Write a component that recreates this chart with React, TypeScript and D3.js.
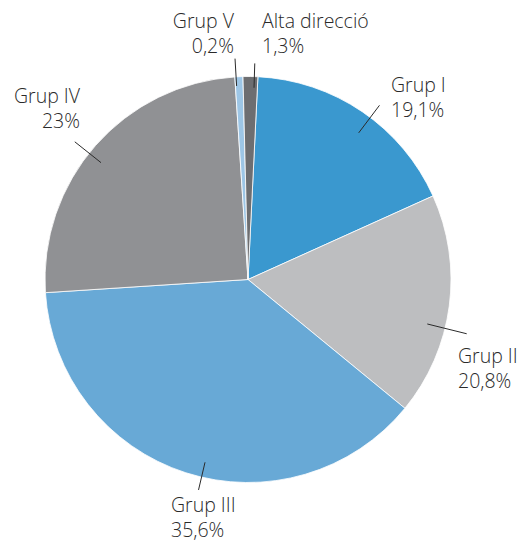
import React, { useRef, useEffect } from "react";
import * as d3 from "d3";

// slice order, clockwise from the top
const groups = ["Grup I", "Grup II", "Grup III", "Grup IV", "Grup V", "Alta direcció"];
// shares as drawn in the picture (%)
const shares = [17.47, 17.69, 38.03, 25.0, 0.64, 1.17];
// the percentages printed on the labels
const labelPcts = ["19,1%", "20,8%", "35,6%", "23%", "0,2%", "1,3%"];
const colors = ["#3a98cf", "#bdbec0", "#68a9d6", "#909194", "#9dc6e6", "#6d6e71"];

// label layout (not data)
const labelPos: { x: number; y: number; anchor: string }[] = [
  { x: 391, y: 92, anchor: "start" },
  { x: 458, y: 363, anchor: "start" },
  { x: 171, y: 512, anchor: "start" },
  { x: 80, y: 103, anchor: "end" },
  { x: 234, y: 28, anchor: "end" },
  { x: 262, y: 28, anchor: "start" },
];
const leaderNudge = [2.8, 6.4, -4.6, -2.8, -0.8, 1.1]; // degrees
const leaderR = [[0.905, 1.075], [0.91, 1.11], [0.925, 1.065], [0.925, 1.09], [0.955, 1.09], [0.945, 1.065]];

export default function App() {
  const ref = useRef<SVGSVGElement>(null);

  useEffect(() => {
    const width = 523;
    const height = 543;
    const cx = 248;
    const cy = 279.5;
    const R = 203;

    const svg = d3.select(ref.current);
    svg.selectAll("*").remove();
    svg.attr("width", width).attr("height", height);

    const start = (2.8 * Math.PI) / 180;
    const pie = d3.pie<number>().sort(null).startAngle(start).endAngle(start + 2 * Math.PI);
    const arcs = pie(shares);
    const arc = d3.arc<d3.PieArcDatum<number>>().innerRadius(0).outerRadius(R);

    const g = svg.append("g").attr("transform", `translate(${cx},${cy})`);

    g.selectAll("path")
      .data(arcs)
      .enter()
      .append("path")
      .attr("d", arc)
      .attr("fill", (d, i) => colors[i])
      .attr("stroke", "#ffffff")
      .attr("stroke-width", 0.8);

    // leader lines
    g.selectAll("line")
      .data(arcs)
      .enter()
      .append("line")
      .each(function (d, i) {
        const a = (d.startAngle + d.endAngle) / 2 + (leaderNudge[i] * Math.PI) / 180;
        const [r0, r1] = leaderR[i];
        d3.select(this)
          .attr("x1", Math.sin(a) * R * r0)
          .attr("y1", -Math.cos(a) * R * r0)
          .attr("x2", Math.sin(a) * R * r1)
          .attr("y2", -Math.cos(a) * R * r1);
      })
      .attr("stroke", "#2b2b2b")
      .attr("stroke-width", 1);

    // labels
    const lab = svg.append("g")
      .style("font-family", "'Open Sans', sans-serif")
      .style("font-size", "19.5px")
      .style("font-weight", 350)
      .style("fill", "#2a2a2a");

    groups.forEach((name, i) => {
      const p = labelPos[i];
      const t = lab.append("text")
        .attr("x", p.x)
        .attr("y", p.y)
        .attr("text-anchor", p.anchor);
      t.append("tspan").attr("x", p.x).text(name);
      t.append("tspan").attr("x", p.x).attr("dy", 25).text(labelPcts[i]);
    });
  }, []);

  return (
    <svg ref={ref} style={{ position: "absolute", left: 0, top: 0, background: "#fff" }}></svg>
  );
}
